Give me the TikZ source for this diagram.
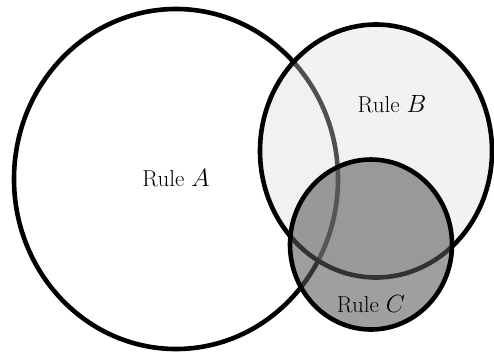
\documentclass[tikz,border=0pt]{standalone}
\usepackage{amsmath,amsfonts}
\usepackage{color}

\definecolor{ruleBfill}{gray}{0.86}
\definecolor{ruleCfill}{gray}{0.35}

\tikzset{
  rulering/.style={draw=black,line width=4.6pt},
  rulelabel/.style={font=\fontsize{23}{26}\selectfont,inner sep=0pt}
}

\begin{document}
\begin{tikzpicture}[x=1pt,y=-1pt]
            \useasboundingbox (0,0) rectangle (494,354);

            \draw[rulering,fill=white] (176,179) ellipse [x radius=162,y radius=170];
            \draw[rulering,fill=ruleBfill,fill opacity=0.37] (376,151) ellipse [x radius=116,y radius=126.5];
            \draw[rulering,fill=ruleCfill,fill opacity=0.58] (371,244.5) ellipse [x radius=81,y radius=85];

            \node[rulelabel] (a) at (176,178) {Rule $A$};
            \node[rulelabel] (b) at (392,104) {Rule $B$};
            \node[rulelabel] (c) at (371,304) {Rule $C$};
        \end{tikzpicture}
\end{document}
